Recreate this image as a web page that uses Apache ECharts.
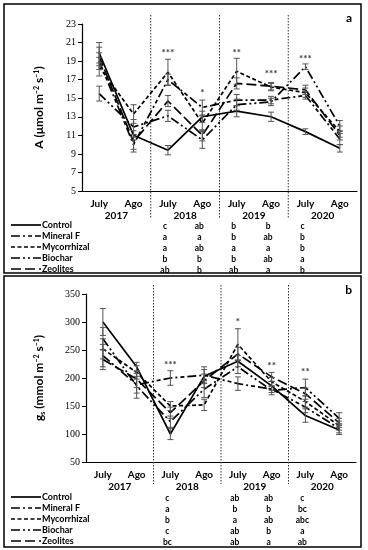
<!DOCTYPE html>
<html><head><meta charset="utf-8">
<script src="https://cdn.jsdelivr.net/npm/echarts@6/dist/echarts.min.js"></script>
<style>html,body{margin:0;padding:0;background:#fff}#c{width:368px;height:550px}</style>
</head><body><div id="c"></div>
<script>
const categories = ['July','Ago','July','Ago','July','Ago','July','Ago'];
const years = ['2017','2018','2019','2020'];
const seriesNames = ['Control','Mineral F','Mycorrhizal','Biochar','Zeolites'];

// Panel a: net photosynthesis A
const aControl     = [19.9, 11.0,  9.4, 13.0, 13.6, 13.0, 11.4,  9.6];
const aMineralF    = [19.0, 10.0, 17.0, 14.0, 14.8, 14.8, 15.3, 10.6];
const aMycorrhizal = [18.4, 13.3, 17.8, 12.3, 17.9, 16.2, 15.6, 11.4];
const aBiochar     = [15.5, 11.9, 13.1, 10.5, 14.3, 14.6, 18.4, 12.0];
const aZeolites    = [19.5, 10.3, 14.7, 11.0, 16.6, 16.3, 15.9, 11.0];
const aControlErr     = [1.1, 0.5, 0.5, 0.6, 0.6, 0.5, 0.3, 0.4];
const aMineralFErr    = [0.9, 0.8, 0.6, 0.8, 0.6, 0.4, 0.4, 0.6];
const aMycorrhizalErr = [1.0, 1.0, 1.4, 0.8, 1.4, 0.4, 0.5, 0.6];
const aBiocharErr     = [0.8, 0.8, 0.6, 0.9, 0.6, 0.4, 0.3, 0.6];
const aZeolitesErr    = [1.0, 0.8, 0.6, 0.6, 0.6, 0.4, 0.5, 0.5];
const aStars   = ['', '', '***', '*', '**', '***', '***', ''];
const aStarPos = [null, null, 19.9, 15.6, 19.9, 17.6, 19.2, null];
const aLetterCols = [2, 3, 4, 5, 6];
const aLetters = [
  ['c','ab','b','b','c'],
  ['a','a','b','ab','b'],
  ['a','ab','a','a','b'],
  ['b','b','b','ab','a'],
  ['ab','b','ab','a','b']
];

// Panel b: stomatal conductance gs
const bControl     = [300, 220, 100, 203, 230, 186, 133, 107];
const bMineralF    = [240, 188, 200, 205, 190, 180, 148, 110];
const bMycorrhizal = [252, 210, 150, 152, 260, 193, 158, 115];
const bBiochar     = [270, 186, 122, 180, 220, 178, 183, 128];
const bZeolites    = [233, 198, 138, 195, 243, 202, 172, 120];
const bControlErr     = [24, 8, 10, 12, 10, 8, 12, 8];
const bMineralFErr    = [20, 15, 13, 15, 12, 6, 10, 8];
const bMycorrhizalErr = [18, 12, 8, 10, 28, 8, 10, 8];
const bBiocharErr     = [20, 22, 10, 15, 12, 8, 15, 10];
const bZeolitesErr    = [18, 15, 10, 12, 12, 8, 10, 8];
const bStars   = ['', '', '***', '', '*', '**', '**', ''];
const bStarPos = [null, null, 223, null, 300, 221, 211, null];
const bLetterCols = [2, 4, 5, 6];
const bLetters = [
  ['c','ab','ab','c'],
  ['a','b','b','bc'],
  ['b','a','ab','abc'],
  ['c','ab','b','a'],
  ['bc','ab','a','ab']
];

const panels = [
  {vals:[aControl,aMineralF,aMycorrhizal,aBiochar,aZeolites],
   errs:[aControlErr,aMineralFErr,aMycorrhizalErr,aBiocharErr,aZeolitesErr],
   stars:aStars, starPos:aStarPos, min:5, max:23, interval:2,
   letterCols:aLetterCols, letters:aLetters},
  {vals:[bControl,bMineralF,bMycorrhizal,bBiochar,bZeolites],
   errs:[bControlErr,bMineralFErr,bMycorrhizalErr,bBiocharErr,bZeolitesErr],
   stars:bStars, starPos:bStarPos, min:50, max:350, interval:50,
   letterCols:bLetterCols, letters:bLetters}
];

const dashTypes = ['solid', [9,3,2,3,4,3], [4,2.5], [9,3,2,3,2,3], [10,4]];
const SANS = 'Lato, "Liberation Sans", sans-serif';
const SERIF = '"Liberation Serif", serif';

const chart = echarts.init(document.getElementById('c'), null, {renderer:'canvas'});

const grids = [
  {left:82, right:11, top:24, height:167},
  {left:86, right:12, top:294, height:168}
];
const xAxes = [], yAxes = [], series = [];
const yNames = [
  '{t|A (μmol m}{s|−2}{t| s}{s|−1}{t|)}',
  '{t|g}{b|s}{t| (mmol m}{s|−2}{t| s}{s|−1}{t|)}'
];
panels.forEach((p, pi) => {
  xAxes.push({type:'category', gridIndex:pi, data:categories, boundaryGap:true,
    axisLine:{show:true, lineStyle:{color:'#000', width:1.2}}, axisTick:{show:false},
    axisLabel:{color:'#000', fontFamily:SANS, fontWeight:'bold', fontSize:10, margin:8},
    splitLine:{show:false}});
  xAxes.push({type:'category', gridIndex:pi, data:years, position:'bottom',
    axisLine:{show:false}, axisTick:{show:false},
    axisLabel:{color:'#000', fontFamily:SANS, fontWeight:'bold', fontSize:10, margin:20}});
  xAxes.push({type:'value', gridIndex:pi, min:0, max:8, show:false});
  yAxes.push({type:'value', gridIndex:pi, min:p.min, max:p.max, interval:p.interval,
    axisLine:{show:true, lineStyle:{color:'#000', width:1.2}},
    axisTick:{show:true, length:4, lineStyle:{color:'#000'}},
    axisLabel:{color:'#000', fontFamily:SERIF, fontSize:10, margin:6},
    splitLine:{show:false},
    name:yNames[pi], nameLocation:'middle', nameGap: pi===0 ? 36 : 40,
    nameTextStyle:{rich:{
      t:{fontFamily:SANS, fontWeight:'bold', fontSize:12, color:'#000'},
      s:{fontFamily:SANS, fontWeight:'bold', fontSize:7, color:'#000', verticalAlign:'top', padding:[0,0,6,0]},
      b:{fontFamily:SANS, fontWeight:'bold', fontSize:7, color:'#000', verticalAlign:'bottom', padding:[6,0,0,0]}
    }}});
  // dividers
  series.push({type:'custom', xAxisIndex:pi*3+2, yAxisIndex:pi, clip:false, silent:true, z:1,
    data:[[2],[4],[6]],
    renderItem:(params, api) => {
      const cs = params.coordSys;
      const x = api.coord([api.value(0), p.min])[0];
      return {type:'line', shape:{x1:x, y1:cs.y-9, x2:x, y2:cs.y+cs.height+ (pi===0?27:22)},
        style:{stroke:'#333', lineWidth:1, lineDash:[1.5,1.5]}};
    }});
  p.vals.forEach((v, si) => {
    series.push({type:'line', name:seriesNames[si], xAxisIndex:pi*3, yAxisIndex:pi,
      data:v, symbol:'none', z:3,
      lineStyle:{color:'#000', width:1.7, type:dashTypes[si]}, itemStyle:{color:'#000'}});
    series.push({type:'custom', xAxisIndex:pi*3, yAxisIndex:pi, z:4, silent:true,
      data:v.map((val, i) => [i, val - p.errs[si][i], val + p.errs[si][i]]),
      renderItem:(params, api) => {
        const lo = api.coord([api.value(0), api.value(1)]);
        const hi = api.coord([api.value(0), api.value(2)]);
        const w = 3;
        const st = {stroke:'#555', lineWidth:1};
        return {type:'group', children:[
          {type:'line', shape:{x1:lo[0], y1:lo[1], x2:hi[0], y2:hi[1]}, style:st},
          {type:'line', shape:{x1:hi[0]-w, y1:hi[1], x2:hi[0]+w, y2:hi[1]}, style:st},
          {type:'line', shape:{x1:lo[0]-w, y1:lo[1], x2:lo[0]+w, y2:lo[1]}, style:st}
        ]};
      }});
  });
  series.push({type:'scatter', xAxisIndex:pi*3, yAxisIndex:pi, symbolSize:0, silent:true,
    data:p.stars.map((s, i) => s ? {value:[i, p.starPos[i]], star:s} : null).filter(d => d),
    label:{show:true, position:'inside', color:'#000', fontFamily:SANS, fontWeight:'bold', fontSize:10,
      formatter:(d) => d.data.star}});
});

chart.setOption({
  animation:false,
  backgroundColor:'#fff',
  title:[
    {text:'a', right:11, top:7, textStyle:{fontFamily:SANS, fontWeight:'bold', fontSize:12, color:'#000'}},
    {text:'b', right:11, top:279, textStyle:{fontFamily:SANS, fontWeight:'bold', fontSize:12, color:'#000'}}
  ],
  grid:grids, xAxis:xAxes, yAxis:yAxes, series:series
});

// legend rows, letters table and borders
const graphics = [
  {type:'rect', shape:{x:4, y:4, width:357, height:269}, style:{fill:null, stroke:'#000', lineWidth:1.5}, z:0},
  {type:'rect', shape:{x:4, y:276, width:357, height:271}, style:{fill:null, stroke:'#000', lineWidth:1.5}, z:0}
];
const rowTops = [225, 497];
panels.forEach((p, pi) => {
  seriesNames.forEach((nm, ri) => {
    const y = rowTops[pi] + ri*11;
    const dash = dashTypes[ri] === 'solid' ? null : dashTypes[ri];
    graphics.push({type:'line', shape:{x1:11, y1:y, x2:41, y2:y},
      style:{stroke:'#000', lineWidth:1.7, lineDash:dash}});
    graphics.push({type:'text', x:42, y:y,
      style:{text:nm, fill:'#000', font:'bold 9px ' + SANS, align:'left', verticalAlign:'middle'}});
  });
  p.letters.forEach((row, ri) => {
    row.forEach((txt, ci) => {
      const x = chart.convertToPixel({xAxisIndex:pi*3}, p.letterCols[ci]) - 3;
      graphics.push({type:'text', x:x, y:rowTops[pi] + 1 + ri*11,
        style:{text:txt, fill:'#000', font:'bold 8.5px ' + SANS, align:'center', verticalAlign:'middle'}});
    });
  });
});
chart.setOption({graphic:graphics});
</script></body></html>
